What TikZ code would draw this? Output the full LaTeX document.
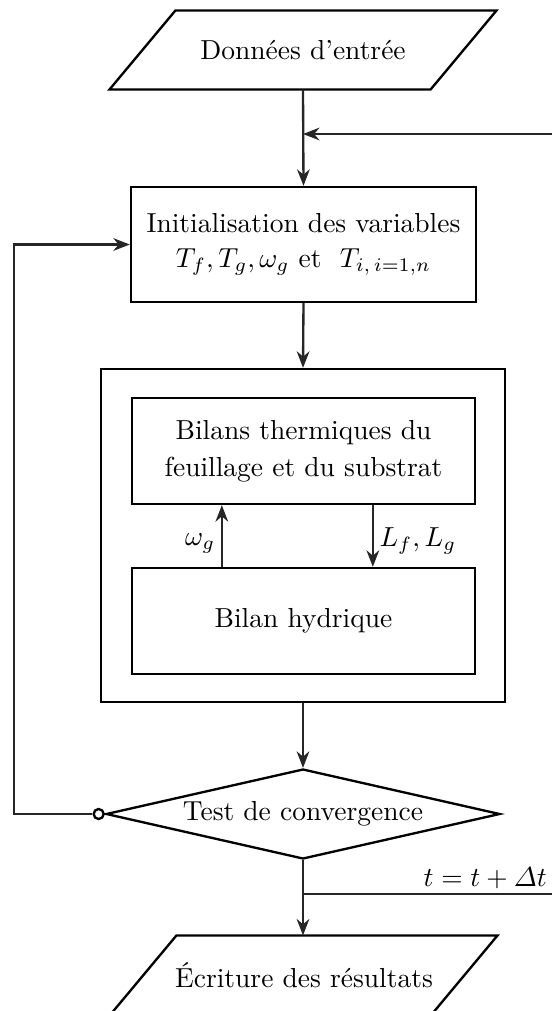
\documentclass[tikz,border=0pt]{standalone}
\usepackage{amsmath}
\usepackage{fontspec}
\usepackage{tikz}
\usetikzlibrary{arrows.meta,shapes.geometric}
\newcommand{\pix}{0.3636pt}
\tikzset{
  boite/.style={draw, line width=0.85pt, inner sep=0pt, align=center},
  donnee/.style={inner sep=0pt, minimum width=320*\pix, minimum height=78*\pix},
  cadre/.style={line width=0.85pt},
  losange/.style={draw, line width=0.85pt, diamond, shape aspect=4.4, inner sep=0pt, minimum width=394*\pix, minimum height=90*\pix},
  fleche/.style={line width=0.85pt, draw=black!85, -{Stealth[length=6pt,width=4.6pt]}},
  trait/.style={line width=0.85pt, draw=black!85},
}

\begin{document}
\begin{tikzpicture}[x=0.3636pt,y=-0.3636pt]
  \useasboundingbox (0,0) rectangle (552,1011);
  % blocs
  \node[donnee] (entree) at (303,50) {Données d'entrée};
  \draw[cadre] ([xshift=33*\pix]entree.north west) -- ([xshift=33*\pix]entree.north east)
    -- ([xshift=-33*\pix]entree.south east) -- ([xshift=-33*\pix]entree.south west) -- cycle;
  \node[boite, minimum width=345*\pix, minimum height=115*\pix] (init) at (303.5,244.5) {Initialisation des variables\\[0.7pt] $T_f, T_g, \omega_g$ et \ $T_{i,\,i=1,n}$};
  \node[boite, minimum width=404*\pix, minimum height=333*\pix] (bilans) at (303,535.5) {};
  \node[boite, minimum width=343*\pix, minimum height=106*\pix] (therm) at (303.5,451) {Bilans thermiques du\\[1.5pt] feuillage et du substrat};
  \node[boite, minimum width=343*\pix, minimum height=106*\pix] (hydr) at (303.5,621) {Bilan hydrique};
  \node[losange] (test) at (303,814) {Test de convergence};
  \node[draw, circle, fill=white, line width=0.85pt, inner sep=0pt, minimum size=10*\pix, anchor=east] (rond) at (test.west) {};
  \node[donnee] (sortie) at (304,975) {\'Ecriture des résultats};
  \draw[cadre] ([xshift=33*\pix]sortie.north west) -- ([xshift=33*\pix]sortie.north east)
    -- ([xshift=-33*\pix]sortie.south east) -- ([xshift=-33*\pix]sortie.south west) -- cycle;
  % bouts libres
  \coordinate (retour) at (552,134);
  \coordinate (gauche) at (14,814);
  \coordinate (pas) at (552,894);
  % liaisons
  \draw[fleche] (entree.south) -- (init.north);
  \draw[fleche] (retour) -- (retour -| entree.south);
  \draw[fleche] (init.south) -- (bilans.north);
  \draw[fleche] ([xshift=91*\pix]hydr.north west) -- ([xshift=91*\pix]therm.south west) node[pos=0.38,left,inner sep=2pt]{$\omega_g$};
  \draw[fleche] ([xshift=242*\pix]therm.south west) -- ([xshift=242*\pix]hydr.north west) node[pos=0.58,right,inner sep=2pt]{$L_f, L_g$};
  \draw[fleche] (bilans.south) -- (test.north);
  \draw[fleche] (rond.west) -- (gauche) |- (init.west);
  \draw[fleche] (test.south) -- (test.south |- sortie.north);
  \draw[trait] (pas -| test.south) -- (pas) node[above left, inner sep=1.5pt]{$t = t + \varDelta t$};
\end{tikzpicture}
\end{document}
